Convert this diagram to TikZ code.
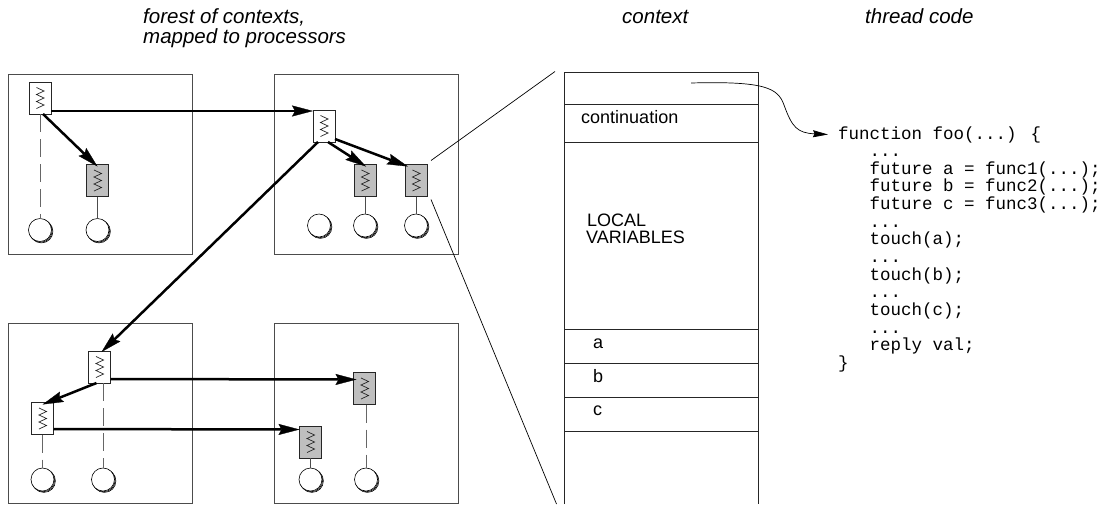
\documentclass[tikz,border=0pt]{standalone}
\usepackage{fontspec}
\setmainfont{Liberation Sans}
\newfontfamily\codefont{Liberation Mono}
\usetikzlibrary{arrows.meta,shadows,calc}
\tikzset{
  proc/.style={draw=black!85, line width=0.7pt, fill=white, minimum width=22pt, minimum height=32pt, inner sep=0pt, outer sep=0pt,
    path picture={\draw[line width=0.7pt] ([shift={(-3.5pt,10.5pt)}]path picture bounding box.center) -- ++(7.5pt,-3.5pt) -- ++(-7.5pt,-3.5pt) -- ++(7.5pt,-3.5pt) -- ++(-7.5pt,-3.5pt) -- ++(7.5pt,-3.5pt) -- ++(-7.5pt,-3.5pt);}},
  procg/.style={proc, fill=black!25},
  leaf/.style={circle, draw=black, fill=white, line width=0.6pt, minimum size=23pt, inner sep=0pt, outer sep=0pt,
    double copy shadow={shadow xshift=0.7pt, shadow yshift=-0.7pt, draw=black, fill=white}},
  tarrow/.style={line width=2.5pt, -{Stealth[length=21pt,width=11pt,inset=3pt,line width=0.3pt]}},
  dashedline/.style={draw=black!60, line width=0.7pt, dash pattern=on 18pt off 7pt},
  stemline/.style={draw=black!70, line width=0.7pt},
  pbox/.style={draw=black!70, line width=0.9pt},
  ctxline/.style={draw=black!85, line width=0.9pt},
  thinline/.style={draw=black, line width=0.7pt},
  thinarrow/.style={draw=black, line width=0.7pt, -{Stealth[length=15pt,width=7pt,inset=1.5pt]}},
  head/.style={font=\fontsize{20.5}{24}\selectfont\itshape, inner sep=0pt, anchor=base west},
  lab/.style={font=\fontsize{18}{20}\selectfont, inner sep=0pt, anchor=base west},
  code/.style={font=\codefont\fontsize{17.5}{18}\selectfont, inner sep=0pt, anchor=base west},
}
\begin{document}
\begin{tikzpicture}[x=1pt,y=-1pt]
\useasboundingbox (0,0) rectangle (1107,504);

% headings
\node[head] (h1) at (143,23.3) {forest of contexts,};
\node[head] (h1b) at (143,43) {mapped to processors};
\node[head] (h2) at (622,23) {context};
\node[head] (h3) at (865,23) {thread code};

% processor boxes
\draw[pbox] (8,74) rectangle (192,254);
\draw[pbox] (274,74) rectangle (458,254);
\draw[pbox] (8,323) rectangle (192,503);
\draw[pbox] (274,323) rectangle (458,503);

% leaves
\node[leaf] (A1l) at (40,230) {};
\node[leaf] (A2l) at (97.5,230) {};
\node[leaf] (B1l) at (319,225.5) {};
\node[leaf] (B2l) at (365,225.5) {};
\node[leaf] (B3l) at (416,225.5) {};
\node[leaf] (C1l) at (103,479.5) {};
\node[leaf] (C2l) at (42.5,479.5) {};
\node[leaf] (D1l) at (366,479.5) {};
\node[leaf] (D2l) at (310.5,479.5) {};

% contexts
\node[proc] (A1) at (40,98) {};
\node[procg] (A2) at (97.5,180.5) {};
\node[proc] (B1) at (324,126) {};
\node[procg] (B2) at (365,180.5) {};
\node[procg] (B3) at (416,180.5) {};
\node[proc] (C1) at (99.5,367) {};
\node[proc] (C2) at (42.5,418.5) {};
\node[procg] (D1) at (364.5,388.5) {};
\node[procg] (D2) at (310.5,442) {};

% stems
\draw[dashedline] (A1) -- (A1l);
\draw[stemline] (A2) -- (A2l);
\draw[stemline] (B2) -- (B2l);
\draw[stemline] (B3) -- (B3l);
\draw[dashedline] (C1.south -| C1l.north) -- (C1l.north);
\draw[dashedline] (C2) -- (C2l);
\draw[dashedline] (D1.south -| D1l.north) -- (D1l.north);
\draw[stemline] (D2) -- (D2l);

% tree arrows
\draw[tarrow] ([yshift=-13pt]A1.east) -- ([yshift=-1pt]B1.north west);
\draw[tarrow] ([xshift=3pt]A1.south) -- ([yshift=-2pt]A2.north);
\draw[tarrow] ([xshift=4pt]B1.south) -- ([xshift=1pt,yshift=-2pt]B2.north);
\draw[tarrow] ([yshift=3pt]B1.south east) -- ([shift={(3pt,-2pt)}]B3.north west);
\draw[tarrow] ([xshift=-6pt]B1.south) -- ([xshift=2pt,yshift=-1pt]C1.north);
\draw[tarrow] ([xshift=-3pt]C1.south) -- ([yshift=-2pt]C2.north);
\draw[tarrow] ([yshift=4pt]C1.south east) -- ([shift={(3pt,-7pt)}]D1.north west);
\draw[tarrow] ([yshift=5.5pt]C2.south east) -- ([shift={(0pt,-3.5pt)}]D2.north west);

% context frame
\draw[ctxline] (564,504) -- (564,72) -- (758,72) -- (758,504);
\foreach \yy in {104,142,329,363,397,431} \draw[ctxline] (564,\yy) -- (758,\yy);
\node[lab] (lcont) at (581,123.3) {continuation};
\node[lab] (lloc) at (587,226.7) {LOCAL};
\node[lab] (lvar) at (586,243.3) {VARIABLES};
\node[lab] (la) at (593,348) {a};
\node[lab] (lb) at (593,382) {b};
\node[lab] (lc) at (593,415) {c};

% projection lines
\coordinate (ctxa) at (555,71.5);
\coordinate (ctxb) at (556.5,504);
\draw[thinline] ([shift={(4pt,4pt)}]B3.north east) -- (ctxa);
\draw[thinline] ([shift={(4pt,-3pt)}]B3.south east) -- (ctxb);

% code
\node[code] (k1) at (838,139) {function foo(...) \{};
\node[code] (k2) at (869.5,156.65) {...};
\node[code] (k3) at (869.5,174.3) {future a = func1(...);};
\node[code] (k4) at (869.5,191.95) {future b = func2(...);};
\node[code] (k5) at (869.5,209.6) {future c = func3(...);};
\node[code] (k6) at (869.5,227.25) {...};
\node[code] (k7) at (869.5,244.9) {touch(a);};
\node[code] (k8) at (869.5,262.55) {...};
\node[code] (k9) at (869.5,280.2) {touch(b);};
\node[code] (k10) at (869.5,297.85) {...};
\node[code] (k11) at (869.5,315.5) {touch(c);};
\node[code] (k12) at (869.5,333.15) {...};
\node[code] (k13) at (869.5,350.8) {reply val;};
\node[code] (k14) at (838,368.45) {\}};

% continuation arrow
\coordinate (cstart) at (691,83);
\draw[thinarrow] (cstart) .. controls (765,81) and (778,88) .. (784,105) .. controls (792,127) and (797,133) .. ([xshift=-10pt]k1.west);
\end{tikzpicture}
\end{document}
